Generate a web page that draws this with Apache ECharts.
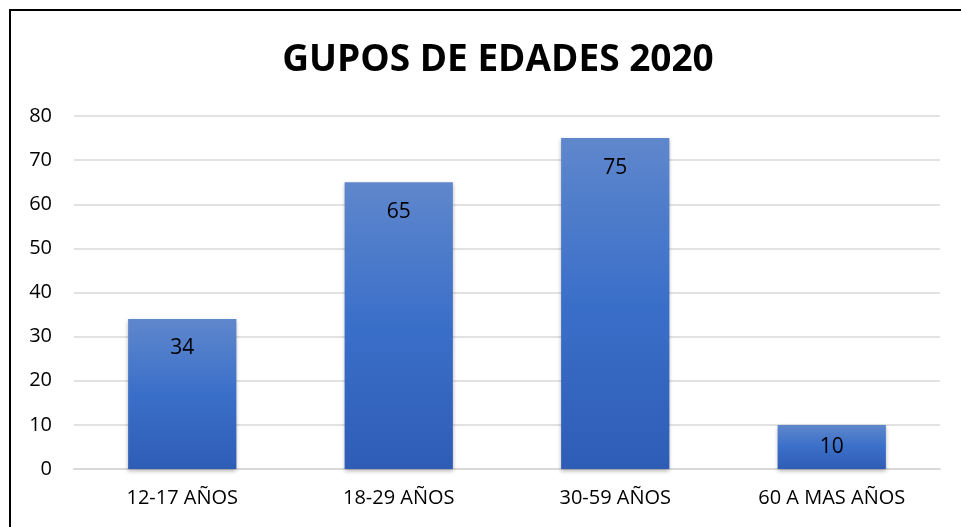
<!DOCTYPE html>
<html>
<head>
<meta charset="utf-8">
<script src="https://cdn.jsdelivr.net/npm/echarts@6/dist/echarts.min.js"></script>
<style>
html,body{margin:0;padding:0;background:#fff;}
#main{width:961px;height:527px;}
</style>
</head>
<body>
<div id="main"></div>
<script>
var categorias = ['12-17 AÑOS', '18-29 AÑOS', '30-59 AÑOS', '60 A MAS AÑOS'];
var valores = [34, 65, 75, 10];
var titulo = 'GUPOS DE EDADES 2020';

var datos = valores.map(function (v) {
    // barras bajas: etiqueta centrada
    if (v < 20) return { value: v, label: { position: 'inside' } };
    return v;
});

var chart = echarts.init(document.getElementById('main'));
var option = {
    backgroundColor: '#fff',
    textStyle: { fontFamily: 'Open Sans' },
    title: {
        text: titulo,
        left: 493,
        top: 37,
        textAlign: 'center',
        textStyle: { fontSize: 37, fontWeight: 'bold', color: '#000', fontFamily: 'Open Sans' }
    },
    graphic: [{
        type: 'rect',
        shape: { x: 10, y: 10, width: 1000, height: 600 },
        style: { fill: 'none', stroke: '#000', lineWidth: 2 },
        silent: true
    }],
    grid: { left: 74, right: 21, top: 116, bottom: 58 },
    xAxis: {
        type: 'category',
        data: categorias,
        axisLine: { lineStyle: { color: '#d9d9d9', width: 2 } },
        axisTick: { show: false },
        axisLabel: { color: '#000', fontSize: 20, margin: 19 }
    },
    yAxis: {
        type: 'value',
        min: 0,
        max: 80,
        interval: 10,
        axisLine: { show: false },
        axisTick: { show: false },
        splitLine: { lineStyle: { color: '#d9d9d9', width: 1.5 } },
        axisLabel: { color: '#000', fontSize: 20, margin: 22 }
    },
    series: [{
        type: 'bar',
        data: datos,
        barWidth: '50%',
        itemStyle: {
            color: new echarts.graphic.LinearGradient(0, 0, 0, 1, [
                { offset: 0, color: '#5f87cc' },
                { offset: 0.5, color: '#3a6fc9' },
                { offset: 1, color: '#2f5db6' }
            ]),
            shadowColor: 'rgba(0,0,0,0.3)',
            shadowBlur: 4,
            shadowOffsetY: 2
        },
        label: {
            show: true,
            position: 'insideTop',
            distance: 19,
            color: '#000',
            fontSize: 21
        }
    }]
};
chart.setOption(option);
</script>
</body>
</html>
